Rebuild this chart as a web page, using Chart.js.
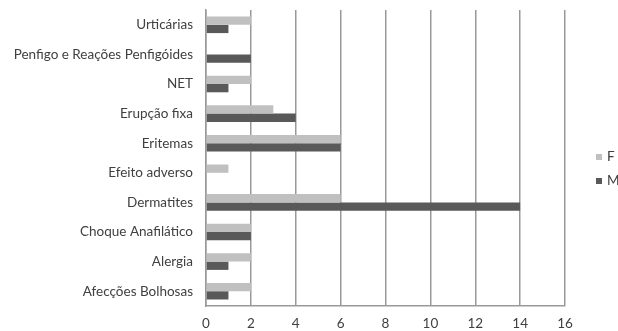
<!DOCTYPE html>
<html>
<head>
<meta charset="utf-8">
<script src="https://cdn.jsdelivr.net/npm/chart.js@4/dist/chart.umd.min.js"></script>
<style>
  html, body { margin: 0; padding: 0; background: #ffffff; overflow: hidden; }
  #wrap { position: relative; width: 618px; height: 331px; }
</style>
</head>
<body>
<div id="wrap"><canvas id="chart"></canvas></div>
<script>
const categories = [
  "Urticárias",
  "Penfigo e Reações Penfigóides",
  "NET",
  "Erupção fixa",
  "Eritemas",
  "Efeito adverso",
  "Dermatites",
  "Choque Anafilático",
  "Alergia",
  "Afecções Bolhosas",
];
const femaleValues = [2, 0, 2, 3, 6, 1, 6, 2, 2, 2];
const maleValues = [1, 2, 1, 4, 6, 0, 14, 2, 1, 1];
const xTicks = [0, 2, 4, 6, 8, 10, 12, 14, 16];

const textColor = "#404040";
const gridColor = "#999999";
const fontFamily = "Lato, 'Open Sans', sans-serif";
const labelFont = { family: fontFamily, size: 13.5 };

// legend sits to the right of the plot, partly cut off by the window edge
const sideLegend = {
  id: "sideLegend",
  afterDraw(chart) {
    const ctx = chart.ctx;
    const area = chart.chartArea;
    const startX = area.right + 31;
    const firstY = (area.top + area.bottom) / 2 - 1;
    const rowGap = 24;

    ctx.save();
    ctx.font = `${labelFont.size}px ${fontFamily}`;
    ctx.textBaseline = "middle";
    chart.data.datasets.forEach((dataset, i) => {
      const y = firstY + i * rowGap;
      ctx.fillStyle = dataset.backgroundColor;
      ctx.fillRect(startX, y - 3, 6, 6);
      ctx.fillStyle = textColor;
      ctx.fillText(dataset.label, startX + 11, y);
    });
    ctx.restore();
  },
};

const ctx = document.getElementById("chart").getContext("2d");

new Chart(ctx, {
  type: "bar",
  data: {
    labels: categories,
    datasets: [
      {
        label: "F",
        data: femaleValues,
        backgroundColor: "#c0c0c0",
        barPercentage: 1,
        categoryPercentage: 0.56,
      },
      {
        label: "M",
        data: maleValues,
        backgroundColor: "#595959",
        barPercentage: 1,
        categoryPercentage: 0.56,
      },
    ],
  },
  options: {
    indexAxis: "y",
    responsive: true,
    maintainAspectRatio: false,
    animation: false,
    layout: {
      padding: { top: 10, right: 53, bottom: 0, left: 0 },
    },
    plugins: {
      tooltip: { enabled: false },
      legend: { display: false },
    },
    scales: {
      x: {
        min: 0,
        max: 16,
        afterBuildTicks: (axis) => {
          axis.ticks = xTicks.map((value) => ({ value }));
        },
        afterFit: (axis) => {
          axis.height = 25;
          axis.paddingLeft = 0;
          axis.paddingRight = 0;
        },
        grid: {
          color: gridColor,
          lineWidth: 1.5,
          drawTicks: false,
        },
        border: { display: true, color: gridColor, width: 1.5 },
        ticks: {
          color: textColor,
          font: labelFont,
          padding: 10,
        },
      },
      y: {
        afterFit: (axis) => {
          axis.width = 206;
          axis.paddingTop = 0;
          axis.paddingBottom = 0;
        },
        grid: { display: false, drawTicks: false },
        border: { display: true, color: gridColor, width: 1.5 },
        ticks: {
          color: textColor,
          font: labelFont,
          padding: 13,
          autoSkip: false,
        },
      },
    },
  },
  plugins: [sideLegend],
});
</script>
</body>
</html>
